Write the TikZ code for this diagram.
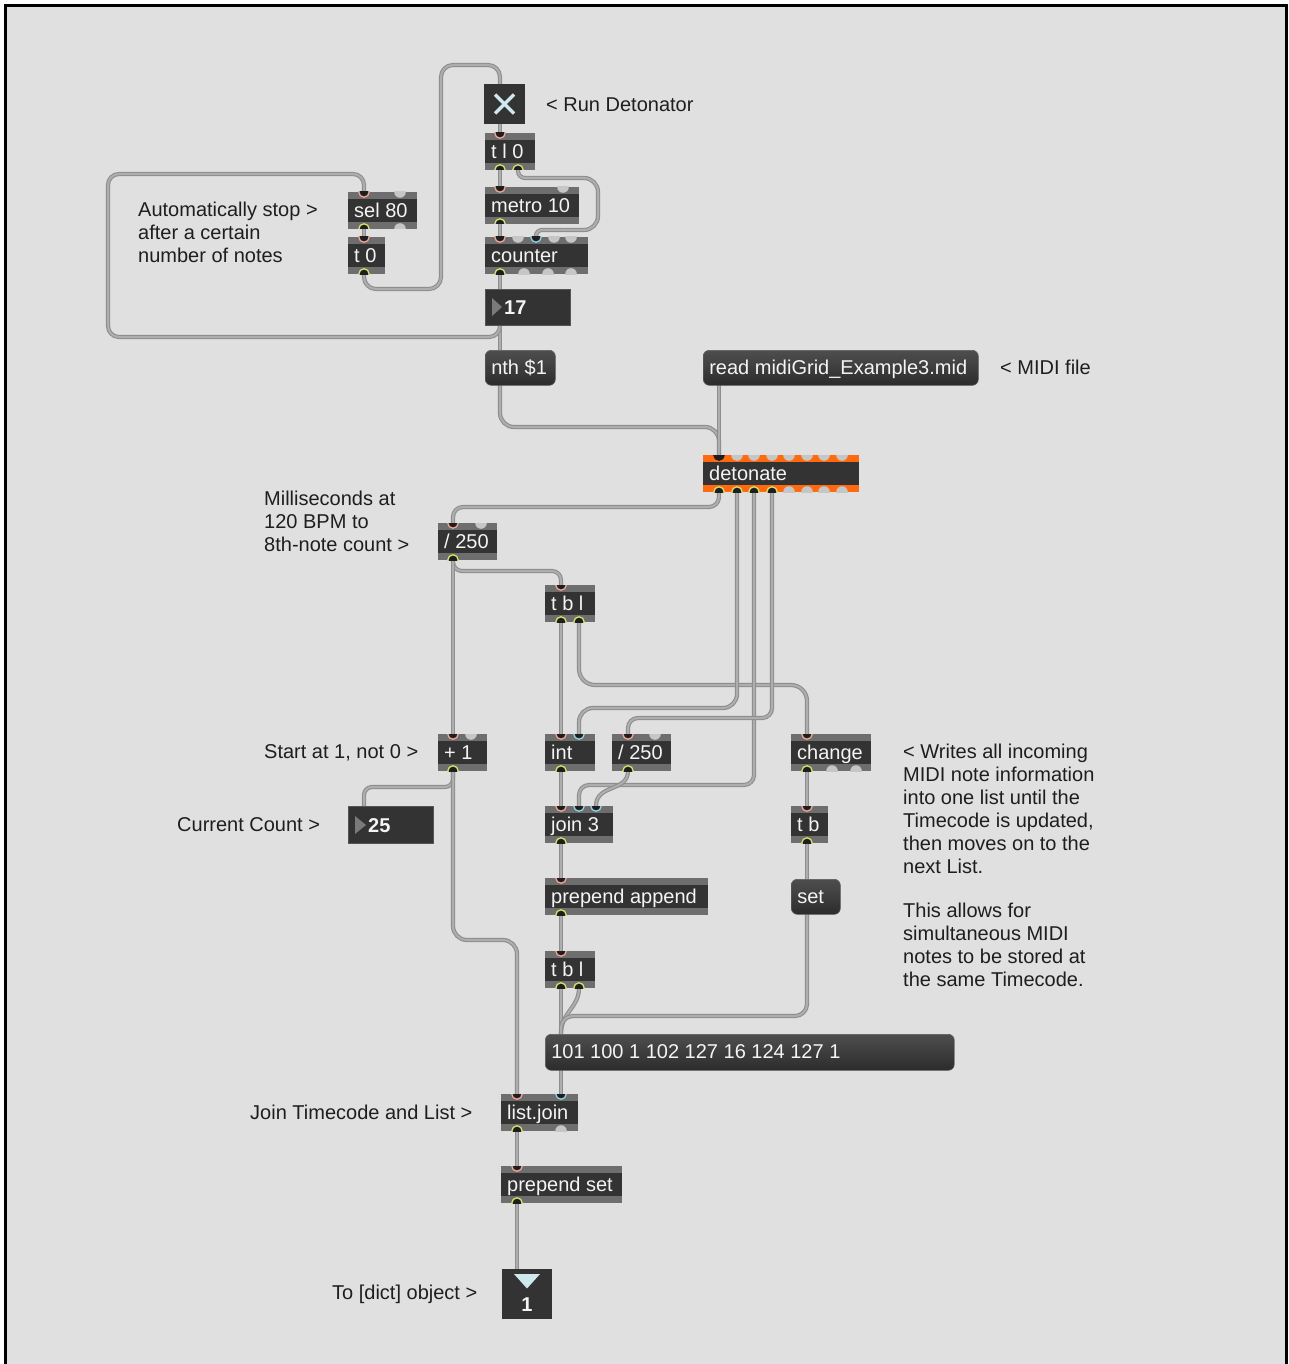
\documentclass[tikz,border=0pt]{standalone}
\usepackage{fontspec}
\setmainfont{Liberation Sans}
\pgfdeclarelayer{bgl}
\pgfdeclarelayer{cordl}
\pgfsetlayers{bgl,cordl,main}
\definecolor{bgc}{HTML}{E0E0E0}
\definecolor{objbody}{HTML}{333333}
\definecolor{objstrip}{HTML}{6E6E6E}
\definecolor{objtext}{HTML}{F4F4F4}
\definecolor{detorange}{HTML}{FF6A10}
\definecolor{portdark}{HTML}{1E1E1E}
\definecolor{portgrey}{HTML}{C6C6C6}
\definecolor{hotc}{HTML}{F2A596}
\definecolor{coldc}{HTML}{8FD3E6}
\definecolor{outc}{HTML}{D9E26A}
\definecolor{cordedge}{HTML}{8E8E8E}
\definecolor{cordfill}{HTML}{AEAEAE}
\definecolor{msgtop}{HTML}{4E4E4E}
\definecolor{msgbot}{HTML}{2C2C2C}
\definecolor{msgedge}{HTML}{5C5C5C}
\definecolor{numedge}{HTML}{555555}
\definecolor{numtri}{HTML}{7A7A7A}
\definecolor{togx}{HTML}{CFE7EE}
\definecolor{cmtc}{HTML}{1E1E1E}
\tikzset{
  mxbase/.style={anchor=north west, fill=objbody, inner xsep=6pt, inner ysep=0pt,
    minimum height=37pt, text height=14.5pt, text depth=1.5pt, text=objtext,
    font=\fontsize{20}{23}\selectfont},
  strips/.style={path picture={
    \fill[#1] (path picture bounding box.north west) rectangle ([yshift=-7pt]path picture bounding box.north east);
    \fill[#1] (path picture bounding box.south west) rectangle ([yshift=7pt]path picture bounding box.south east);}},
  mxobj/.style={mxbase, strips=objstrip},
  detobj/.style={mxbase, strips=detorange},
  mxmsg/.style={anchor=north west, rounded corners=6pt, top color=msgtop, bottom color=msgbot,
    draw=msgedge, line width=0.6pt, inner xsep=6pt, inner ysep=0pt, minimum height=35pt,
    text height=14.5pt, text depth=1.5pt, text=objtext, font=\fontsize{20}{23}\selectfont},
  numbox/.style={anchor=north west, fill=objbody, draw=numedge, line width=0.6pt,
    inner sep=0pt, minimum height=36pt},
  numtext/.style={anchor=base west, inner sep=0pt, text=objtext,
    font=\fontsize{20}{23}\selectfont\bfseries},
  cmt/.style={anchor=north west, align=left, inner sep=0pt, text=cmtc,
    font=\fontsize{20}{23}\selectfont},
  cord/.style={draw=cordedge, double=cordfill, double distance=2pt, line width=1.1pt},
}
\newcommand\mxo[4][mxobj]{\node[#1] (#2) at (#3) {\makebox[\dimexpr#4pt-12pt\relax][l]{\mxtext}};}
\newcommand\mxobject[5][mxobj]{\def\mxtext{#5}\mxo[#1]{#2}{#3}{#4}}
\newcommand\mxmessage[5][35]{\node[mxmsg, minimum height=#1pt] (#2) at (#3) {\makebox[\dimexpr#4pt-12pt\relax][l]{#5}};}
\newcommand\pin[4]{\coordinate (#1) at (#2,#3);
  \begin{scope}\clip (#2-7,#3) rectangle (#2+7,#3+7);
  \filldraw[fill=portdark, draw=#4, line width=1.3pt] (#2,#3) circle[radius=5.2pt];\end{scope}}
\newcommand\pout[4]{\coordinate (#1) at (#2,#3);
  \begin{scope}\clip (#2-7,#3) rectangle (#2+7,#3-7);
  \filldraw[fill=portdark, draw=#4, line width=1.3pt] (#2,#3) circle[radius=5.2pt];\end{scope}}
\newcommand\gin[2]{\begin{scope}\clip (#1-7,#2) rectangle (#1+7,#2+7);
  \fill[portgrey] (#1,#2) circle[radius=5.8pt];\end{scope}}
\newcommand\gout[2]{\begin{scope}\clip (#1-7,#2) rectangle (#1+7,#2-7);
  \fill[portgrey] (#1,#2) circle[radius=5.8pt];\end{scope}}
\begin{document}
\begin{tikzpicture}[x=1pt,y=-1pt]
\useasboundingbox (0,0) rectangle (1288,1364);
\begin{pgfonlayer}{bgl}
  \fill[white] (0,0) rectangle (1288,1364);
  \fill[bgc] (5.5,5.5) rectangle (1286.5,1364);
  \draw[line width=2.6pt, black] (5.5,1364) -- (5.5,5.5) -- (1286.5,5.5) -- (1286.5,1364);
\end{pgfonlayer}

% ---------- toggle ----------
\node[anchor=north west, fill=objbody, minimum width=41pt, minimum height=40pt, inner sep=0pt] (tog) at (484,84) {};
\draw[togx, line width=3.2pt] (495,94.5) -- (514,113.5) (514,94.5) -- (495,113.5);
\coordinate (tog-i1) at (500,84);
\coordinate (tog-o1) at (500,124);

% ---------- objects ----------
\mxobject{tl0}{485,133}{50}{t l 0}
\pin{tl0-i1}{500}{133}{hotc}
\pout{tl0-o1}{500}{170}{outc}\pout{tl0-o2}{518}{170}{outc}

\mxobject{met}{485,187}{94}{metro 10}
\pin{met-i1}{500}{187}{hotc}\gin{563}{187}
\pout{met-o1}{500}{224}{outc}

\mxobject{cnt}{485,237}{103}{counter}
\pin{cnt-i1}{500}{237}{hotc}\gin{518}{237}\pin{cnt-i3}{536}{237}{coldc}\gin{554}{237}\gin{571}{237}
\pout{cnt-o1}{500}{274}{outc}\gout{524}{274}\gout{548}{274}\gout{571}{274}

\node[numbox, minimum width=85pt] (n17) at (485,289) {};
\fill[numtri] (492,298) -- (492,316) -- (502,307) -- cycle;
\node[numtext] (n17t) at (504,314.5) {17};
\coordinate (n17-i1) at (500,289);
\coordinate (n17-o1) at (500,325);

\mxobject{sel}{348,192}{69}{sel 80}
\pin{sel-i1}{364}{192}{hotc}\gin{400}{192}
\pout{sel-o1}{364}{229}{outc}\gout{400}{229}

\mxobject{t0}{348,237}{37}{t 0}
\pin{t0-i1}{364}{237}{hotc}
\pout{t0-o1}{364}{274}{outc}

\mxmessage{nth}{485,350}{70}{nth \$1}
\coordinate (nth-i1) at (500,350);
\coordinate (nth-o1) at (500,385);

\mxmessage{read}{703,350}{275}{read midiGrid\_Example3.mid}
\coordinate (read-o1) at (719,385);

\mxobject[detobj]{det}{703,455}{156}{detonate}
\pin{det-i1}{719}{455}{portdark}
\foreach \px in {737,754,772,789,807,824,842} {\gin{\px}{455}}
\pout{det-o1}{719}{492}{outc}\pout{det-o2}{737}{492}{outc}\pout{det-o3}{754}{492}{outc}\pout{det-o4}{772}{492}{outc}
\foreach \px in {789,807,824,842} {\gout{\px}{492}}

\mxobject{div1}{438,523}{59}{/ 250}
\pin{div1-i1}{453}{523}{hotc}\gin{481}{523}
\pout{div1-o1}{453}{560}{outc}

\mxobject{tbl1}{545,585}{50}{t b l}
\pin{tbl1-i1}{561}{585}{hotc}
\pout{tbl1-o1}{561}{622}{outc}\pout{tbl1-o2}{579}{622}{outc}

\mxobject{plus}{438,734}{49}{+ 1}
\pin{plus-i1}{453}{734}{hotc}\gin{471}{734}
\pout{plus-o1}{453}{771}{outc}

\mxobject{int}{545,734}{50}{int}
\pin{int-i1}{561}{734}{hotc}\pin{int-i2}{579}{734}{coldc}
\pout{int-o1}{561}{771}{outc}

\mxobject{div2}{612,734}{59}{/ 250}
\pin{div2-i1}{628}{734}{hotc}\gin{655}{734}
\pout{div2-o1}{628}{771}{outc}

\mxobject{chg}{791,734}{80}{change}
\pin{chg-i1}{807}{734}{hotc}
\pout{chg-o1}{807}{771}{outc}\gout{832}{771}\gout{856}{771}

\node[numbox, minimum width=85pt, minimum height=37pt] (n25) at (348,806) {};
\fill[numtri] (355,816) -- (355,834) -- (366,825) -- cycle;
\node[numtext] (n25t) at (368,832) {25};
\coordinate (n25-i1) at (364,806);

\mxobject{join}{545,806}{68}{join 3}
\pin{join-i1}{561}{806}{hotc}\pin{join-i2}{579}{806}{coldc}\pin{join-i3}{596}{806}{coldc}
\pout{join-o1}{561}{843}{outc}

\mxobject{tb}{791,806}{37}{t b}
\pin{tb-i1}{807}{806}{hotc}
\pout{tb-o1}{807}{843}{outc}

\mxobject{ppa}{545,878}{163}{prepend append}
\pin{ppa-i1}{561}{878}{hotc}
\pout{ppa-o1}{561}{915}{outc}

\mxmessage{set}{791,879}{49}{set}
\coordinate (set-i1) at (807,879);
\coordinate (set-o1) at (807,914);

\mxobject{tbl2}{545,951}{50}{t b l}
\pin{tbl2-i1}{561}{951}{hotc}
\pout{tbl2-o1}{561}{988}{outc}\pout{tbl2-o2}{579}{988}{outc}

\mxmessage[36]{msg}{545,1034}{409}{101 100 1 102 127 16 124 127 1}
\coordinate (msg-i1) at (561,1034);
\coordinate (msg-o1) at (561,1070);

\mxobject{lj}{501,1094}{77}{list.join}
\pin{lj-i1}{517}{1094}{hotc}\pin{lj-i2}{561}{1094}{coldc}
\pout{lj-o1}{517}{1131}{outc}\gout{561}{1131}

\mxobject{pps}{501,1166}{121}{prepend set}
\pin{pps-i1}{517}{1166}{hotc}
\pout{pps-o1}{517}{1203}{outc}

\node[anchor=north west, fill=objbody, minimum width=50pt, minimum height=50pt, inner sep=0pt] (out1) at (502,1269) {};
\fill[togx] (514,1274) -- (540,1274) -- (527,1288.5) -- cycle;
\node[text=objtext, font=\fontsize{20}{23}\selectfont\bfseries, inner sep=0pt] (out1t) at (527,1305) {1};
\coordinate (out-i1) at (517,1269);

% ---------- comments ----------
\node[cmt] (c1) at (546,98) {< Run Detonator};
\node[cmt] (c2) at (138,202) {Automatically stop >\\after a certain\\number of notes};
\node[cmt] (c3) at (1000,360) {< MIDI file};
\node[cmt] (c4) at (264,491) {Milliseconds at\\120 BPM to\\8th-note count >};
\node[cmt] (c5) at (264,744) {Start at 1, not 0 >};
\node[cmt] (c6) at (177,817) {Current Count >};
\node[cmt] (c7) at (903,744) {< Writes all incoming\\MIDI note information\\into one list until the\\Timecode is updated,\\then moves on to the\\next List.\\[21pt]This allows for\\simultaneous MIDI\\notes to be stored at\\the same Timecode.};
\node[cmt] (c8) at (250,1105) {Join Timecode and List >};
\node[cmt] (c9) at (332,1285) {To [dict] object >};

% ---------- cords ----------
\begin{pgfonlayer}{cordl}
\draw[cord, rounded corners=12pt] (t0-o1) -- (364,289) -- (441,289) -- (441,65) -- (500,65) -- (tog-i1);
\draw[cord] (tog-o1) -- (tl0-i1);
\draw[cord] (tl0-o1) -- (met-i1);
\draw[cord, rounded corners=7pt] (tl0-o2) -- (518,178) -- (560,178);
\draw[cord, rounded corners=14pt] (560,178) -- (598,178) -- (598,230) -- (560,230);
\draw[cord, rounded corners=6pt] (560,230) -- (536,230) -- (cnt-i3);
\draw[cord] (met-o1) -- (cnt-i1);
\draw[cord] (cnt-o1) -- (n17-i1);
\draw[cord] (n17-o1) -- (nth-i1);
\draw[cord, rounded corners=11pt] (n17-o1) -- (500,337) -- (108,337) -- (108,174) -- (364,174) -- (sel-i1);
\draw[cord] (sel-o1) -- (t0-i1);
\draw[cord, rounded corners=14pt] (nth-o1) -- (500,427) -- (719,427) -- (det-i1);
\draw[cord] (read-o1) -- (det-i1);
\draw[cord, rounded corners=10pt] (det-o1) -- (719,507) -- (453,507) -- (div1-i1);
\draw[cord, rounded corners=9pt] (div1-o1) -- (453,571) -- (561,571) -- (tbl1-i1);
\draw[cord] (div1-o1) -- (plus-i1);
\draw[cord] (tbl1-o1) -- (int-i1);
\draw[cord, rounded corners=16pt] (tbl1-o2) -- (579,685) -- (807,685) -- (chg-i1);
\draw[cord, rounded corners=14pt] (det-o2) -- (737,708) -- (579,708) -- (int-i2);
\draw[cord, rounded corners=10pt] (det-o3) -- (754,785) -- (579,785) -- (join-i2);
\draw[cord, rounded corners=10pt] (det-o4) -- (772,718) -- (628,718) -- (div2-i1);
\draw[cord] (div2-o1) .. controls (628,792) and (596,784) .. (join-i3);
\draw[cord] (int-o1) -- (join-i1);
\draw[cord] (chg-o1) -- (tb-i1);
\draw[cord] (tb-o1) -- (set-i1);
\draw[cord] (join-o1) -- (ppa-i1);
\draw[cord] (ppa-o1) -- (tbl2-i1);
\draw[cord] (tbl2-o1) -- (msg-i1);
\draw[cord] (tbl2-o2) .. controls (579,1008) and (561,1012) .. (msg-i1);
\draw[cord, rounded corners=12pt] (set-o1) -- (807,1016) -- (561,1016) -- (msg-i1);
\draw[cord] (msg-o1) -- (lj-i2);
\draw[cord, rounded corners=8pt] (plus-o1) -- (453,787) -- (364,787) -- (n25-i1);
\draw[cord, rounded corners=14pt] (plus-o1) -- (453,940) -- (517,940) -- (lj-i1);
\draw[cord] (lj-o1) -- (pps-i1);
\draw[cord] (pps-o1) -- (out-i1);
\end{pgfonlayer}
\end{tikzpicture}
\end{document}
